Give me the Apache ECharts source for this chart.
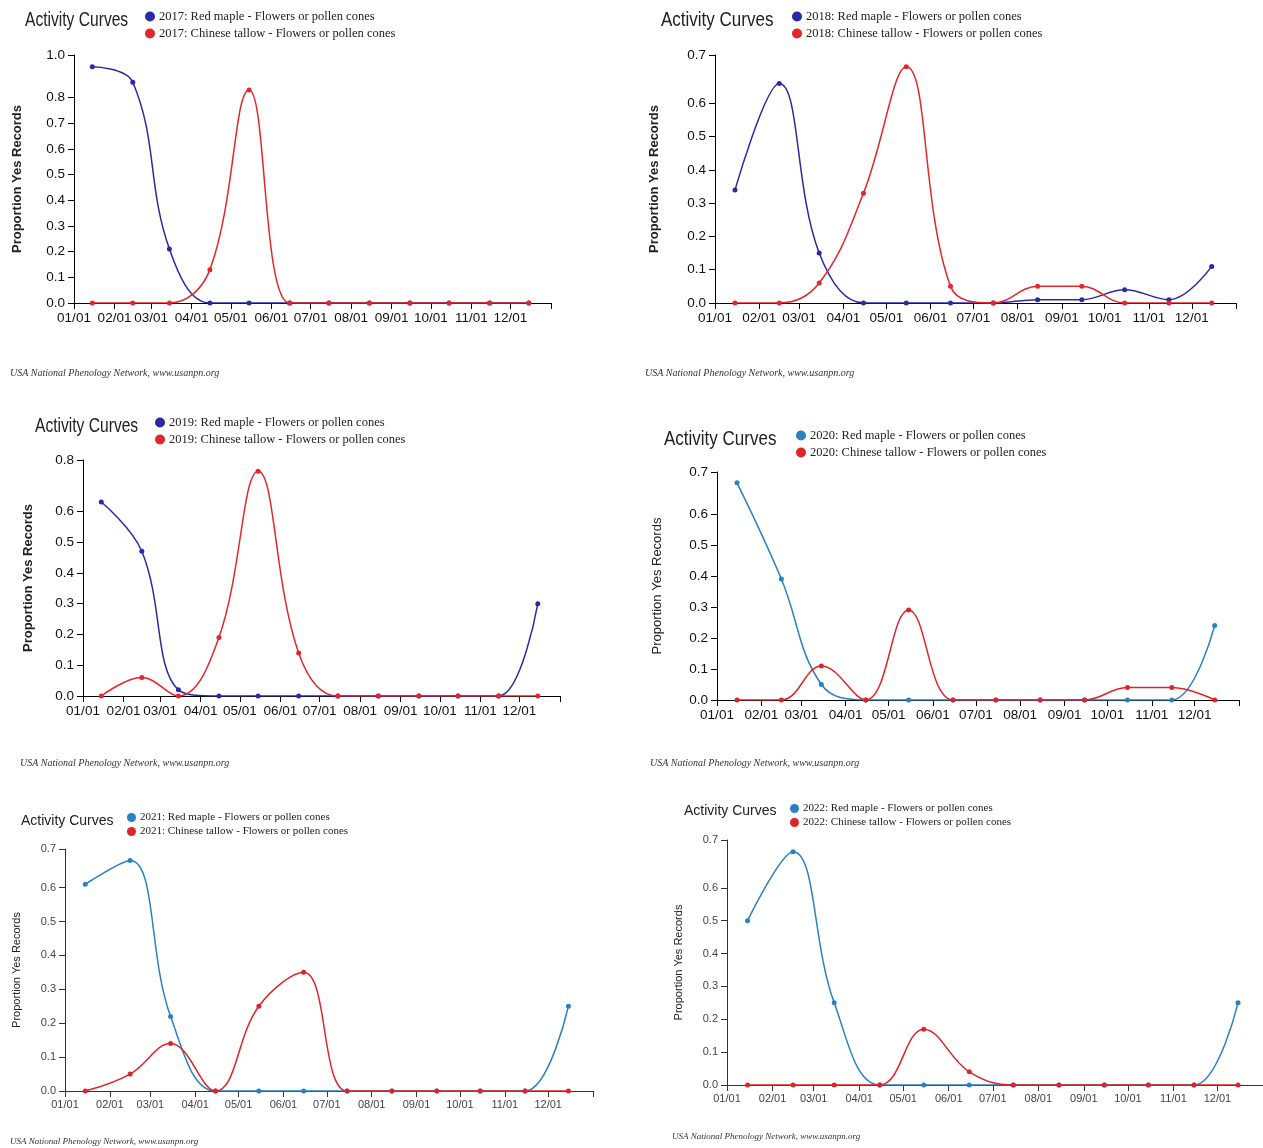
<!DOCTYPE html>
<html><head><meta charset="utf-8">
<script src="https://cdn.jsdelivr.net/npm/echarts@6/dist/echarts.min.js"></script>
<style>html,body{margin:0;padding:0;background:#fff}#c{width:1263px;height:1148px}</style>
</head><body><div id="c"></div>
<script>
// ---- data ----
const monthStarts = [0, 31, 59, 90, 120, 151, 181, 212, 243, 273, 304, 334];
const monthLabels = ['01/01','02/01','03/01','04/01','05/01','06/01','07/01','08/01','09/01','10/01','11/01','12/01'];
const years = ['2017', '2018', '2019', '2020', '2021', '2022'];
const speciesMaple = 'Red maple - Flowers or pollen cones';
const speciesTallow = 'Chinese tallow - Flowers or pollen cones';

const redMaple2017 = [0.92, 0.86, 0.21, 0, 0, 0, 0, 0, 0, 0, 0, 0];
const tallow2017   = [0, 0, 0, 0.13, 0.83, 0, 0, 0, 0, 0, 0, 0];
const redMaple2018 = [0.34, 0.66, 0.15, 0, 0, 0, 0, 0.01, 0.01, 0.04, 0.01, 0.11];
const tallow2018   = [0, 0, 0.06, 0.33, 0.71, 0.05, 0, 0.05, 0.05, 0, 0, 0];
const redMaple2019 = [0.63, 0.47, 0.02, 0, 0, 0, 0, 0, 0, 0, 0, 0.30];
const tallow2019   = [0, 0.06, 0, 0.19, 0.73, 0.14, 0, 0, 0, 0, 0, 0];
const redMaple2020 = [0.70, 0.39, 0.05, 0, 0, 0, 0, 0, 0, 0, 0, 0.24];
const tallow2020   = [0, 0, 0.11, 0, 0.29, 0, 0, 0, 0, 0.04, 0.04, 0];
const redMaple2021 = [0.61, 0.68, 0.22, 0, 0, 0, 0, 0, 0, 0, 0, 0.25];
const tallow2021   = [0, 0.05, 0.14, 0, 0.25, 0.35, 0, 0, 0, 0, 0, 0];
const redMaple2022 = [0.50, 0.71, 0.25, 0, 0, 0, 0, 0, 0, 0, 0, 0.25];
const tallow2022   = [0, 0, 0, 0, 0.17, 0.04, 0, 0, 0, 0, 0, 0];

const mapleByYear = [redMaple2017, redMaple2018, redMaple2019, redMaple2020, redMaple2021, redMaple2022];
const tallowByYear = [tallow2017, tallow2018, tallow2019, tallow2020, tallow2021, tallow2022];

// ---- layout / style ----
const layouts = [
  {left:74,  top:55,  width:477, height:248, tx:25,  ty:10,  lx:145, ly:10,  fx:10,  fy:368,  gap:50, big:true,  dark:true,  sx:0.78},
  {left:715, top:55,  width:521, height:248, tx:661, ty:10,  lx:792, ly:10,  fx:645, fy:368,  gap:54, big:true,  dark:true,  sx:0.85},
  {left:83,  top:460, width:477, height:236, tx:35,  ty:416, lx:155, ly:416, fx:20,  fy:758,  gap:48, big:true,  dark:true,  sx:0.78},
  {left:717, top:472, width:522, height:228, tx:664, ty:429, lx:796, ly:429, fx:650, fy:758,  gap:53, big:true,  dark:false, sx:0.85},
  {left:65,  top:849, width:528, height:242, tx:21,  ty:814, lx:127, ly:812, fx:10,  fy:1137, gap:43, big:false, dark:false, sx:1},
  {left:727, top:840, width:537, height:245, tx:684, ty:804, lx:790, ly:803, fx:672, fy:1132, gap:43, big:false, dark:false, sx:1}
];
const darkColors = ['#2a2aa8', '#e3262b'];
const lightColors = ['#2a80c4', '#dc2529'];

const sans = '"Liberation Sans", Arial, sans-serif';
const serif = '"Liberation Serif", "Times New Roman", serif';

const option = {
  animation: false,
  backgroundColor: '#fff',
  title: [], legend: [], grid: [], xAxis: [], yAxis: [], series: [], graphic: []
};

years.forEach((yr, i) => {
  const L = layouts[i];
  const colors = L.dark ? darkColors : lightColors;
  const maple = mapleByYear[i], tallow = tallowByYear[i];
  const yMax = Math.max(...maple, ...tallow) * 1.05;
  const yTicks = [];
  for (let k = 0; k <= 10; k++) { const v = k / 10; if (v <= yMax - 0.07) yTicks.push(v); }
  yTicks.push(yMax);
  const xTicks = monthStarts.concat([365]);
  const lblSize = L.big ? 13.5 : 11;
  const lblColor = L.big ? '#111' : '#444';
  const nameMaple = yr + ': ' + speciesMaple;
  const nameTallow = yr + ': ' + speciesTallow;

  option.graphic.push({
    type: 'text', x: L.tx, y: L.ty, scaleX: L.sx, silent: true,
    style: {
      text: 'Activity Curves', fill: '#222', verticalAlign: 'top',
      font: (L.big ? '20px ' : '14px ') + sans
    }
  });
  option.title.push({
    text: 'USA National Phenology Network, www.usanpn.org', left: L.fx, top: L.fy, padding: 0,
    textStyle: { fontFamily: serif, fontStyle: 'italic', fontSize: L.big ? 10 : 9, fontWeight: 'normal', color: '#333' }
  });
  option.legend.push({
    orient: 'vertical', left: L.lx, top: L.ly, padding: 0,
    itemWidth: L.big ? 10 : 9, itemHeight: L.big ? 10 : 9, itemGap: L.big ? 4 : 3,
    icon: 'circle', selectedMode: false,
    data: [nameMaple, nameTallow],
    textStyle: { fontFamily: serif, fontSize: L.big ? 12.5 : 11, color: '#222', padding: [0, 0, 0, -1] }
  });
  option.grid.push({ left: L.left, top: L.top, width: L.width, height: L.height, containLabel: false });
  option.xAxis.push({
    type: 'value', gridIndex: i, min: 0, max: 365,
    axisLine: { show: true, onZero: false, lineStyle: { color: L.big ? '#000' : '#333', width: 1 } },
    axisTick: { show: true, length: 6, customValues: xTicks, lineStyle: { color: L.big ? '#000' : '#333' } },
    axisLabel: {
      customValues: monthStarts, margin: 8, fontFamily: sans, fontSize: lblSize, color: lblColor,
      formatter: v => monthLabels[monthStarts.indexOf(Math.round(v))] || ''
    },
    splitLine: { show: false }
  });
  option.yAxis.push({
    type: 'value', gridIndex: i, min: 0, max: yMax,
    name: 'Proportion Yes Records', nameLocation: 'middle', nameRotate: 90, nameGap: L.gap,
    nameTextStyle: { fontFamily: sans, fontSize: L.big ? 13 : 11, fontWeight: (i < 3) ? 'bold' : 'normal', color: '#222' },
    axisLine: { show: true, lineStyle: { color: L.big ? '#000' : '#333', width: 1 } },
    axisTick: { show: true, length: 6, customValues: yTicks, lineStyle: { color: L.big ? '#000' : '#333' } },
    axisLabel: {
      customValues: yTicks, margin: 9, fontFamily: sans, fontSize: lblSize, color: lblColor,
      formatter: v => Number(v).toFixed(1)
    },
    splitLine: { show: false }
  });
  const toPts = arr => arr.map((v, m) => [monthStarts[m] + 14, v]);
  [[nameMaple, maple, colors[0]], [nameTallow, tallow, colors[1]]].forEach(([nm, arr, col]) => {
    option.series.push({
      name: nm, type: 'line', xAxisIndex: i, yAxisIndex: i,
      data: toPts(arr), smooth: 0.4,
      symbol: 'circle', symbolSize: 5,
      itemStyle: { color: col },
      lineStyle: { color: col, width: 1.5 },
      emphasis: { disabled: true }
    });
  });
});

const chart = echarts.init(document.getElementById('c'), null, { renderer: 'canvas' });
chart.setOption(option);
</script>
</body></html>
